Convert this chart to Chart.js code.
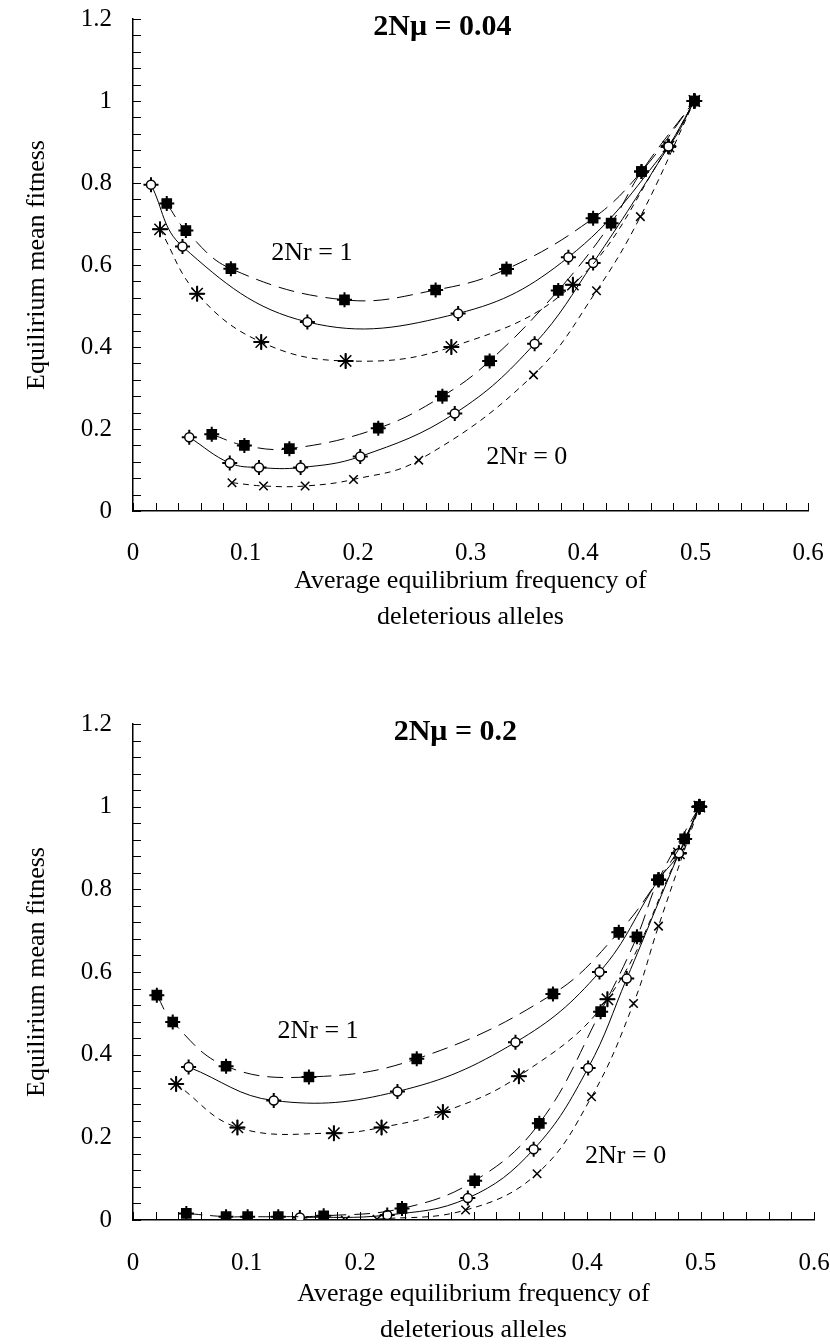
<!DOCTYPE html>
<html>
<head>
<meta charset="utf-8">
<script src="https://cdn.jsdelivr.net/npm/chart.js@4.4.1/dist/chart.umd.min.js"></script>
<style>
  body { margin: 0; background: #fff; width: 830px; height: 1344px; position: relative; overflow: hidden; }
  .box { position: absolute; left: 0; width: 830px; height: 672px; }
</style>
</head>
<body>
<div class="box" style="top:0"><canvas id="topChart"></canvas></div>
<div class="box" style="top:676px"><canvas id="bottomChart"></canvas></div>
<script>
// ---- 2Nmu = 0.04 ----
// 2Nr = 1
var topR1SqX   = [0.030, 0.047, 0.087, 0.188, 0.269, 0.332, 0.409, 0.452, 0.499];
var topR1SqY   = [0.750, 0.684, 0.591, 0.515, 0.539, 0.590, 0.714, 0.828, 1.000];
var topR1CircX = [0.016, 0.044, 0.155, 0.289, 0.387, 0.476, 0.499];
var topR1CircY = [0.796, 0.645, 0.461, 0.482, 0.619, 0.889, 1.000];
var topR1StarX = [0.024, 0.057, 0.114, 0.189, 0.283, 0.391, 0.476, 0.499];
var topR1StarY = [0.687, 0.530, 0.412, 0.366, 0.400, 0.552, 0.889, 1.000];
// 2Nr = 0
var topR0SqX    = [0.070, 0.099, 0.139, 0.218, 0.275, 0.317, 0.378, 0.425, 0.452, 0.499];
var topR0SqY    = [0.187, 0.160, 0.152, 0.202, 0.280, 0.366, 0.538, 0.702, 0.828, 1.000];
var topR0CircX  = [0.050, 0.086, 0.112, 0.149, 0.202, 0.286, 0.357, 0.409, 0.476, 0.499];
var topR0CircY  = [0.180, 0.117, 0.106, 0.106, 0.133, 0.238, 0.408, 0.605, 0.889, 1.000];
var topR0CrossX = [0.088, 0.116, 0.153, 0.196, 0.254, 0.356, 0.412, 0.451, 0.499];
var topR0CrossY = [0.069, 0.061, 0.061, 0.077, 0.124, 0.332, 0.537, 0.718, 1.000];

// ---- 2Nmu = 0.2 ----
// 2Nr = 1
var botR1SqX   = [0.021, 0.035, 0.082, 0.155, 0.250, 0.370, 0.428, 0.463, 0.486, 0.499];
var botR1SqY   = [0.544, 0.479, 0.372, 0.346, 0.390, 0.547, 0.696, 0.823, 0.922, 1.000];
var botR1CircX = [0.049, 0.124, 0.233, 0.337, 0.411, 0.463, 0.481, 0.499];
var botR1CircY = [0.370, 0.289, 0.311, 0.430, 0.600, 0.823, 0.887, 1.000];
var botR1StarX = [0.038, 0.092, 0.177, 0.219, 0.273, 0.340, 0.418, 0.481, 0.499];
var botR1StarY = [0.329, 0.224, 0.210, 0.224, 0.261, 0.348, 0.534, 0.887, 1.000];
// 2Nr = 0
var botR0SqX    = [0.047, 0.082, 0.101, 0.128, 0.168, 0.237, 0.301, 0.358, 0.412, 0.444, 0.463, 0.499];
var botR0SqY    = [0.016, 0.008, 0.008, 0.008, 0.010, 0.028, 0.095, 0.234, 0.504, 0.685, 0.823, 1.000];
var botR0CircX  = [0.147, 0.224, 0.295, 0.353, 0.401, 0.435, 0.481, 0.499];
var botR0CircY  = [0.006, 0.012, 0.053, 0.171, 0.368, 0.584, 0.887, 1.000];
var botR0CrossX = [0.187, 0.215, 0.293, 0.356, 0.404, 0.441, 0.463, 0.499];
var botR0CrossY = [0.000, 0.002, 0.024, 0.112, 0.298, 0.524, 0.711, 1.000];

// axis ticks
var xTickValues = [0, 0.1, 0.2, 0.3, 0.4, 0.5, 0.6];
var yTickValues = [0, 0.2, 0.4, 0.6, 0.8, 1, 1.2];

var serif = '"Liberation Serif", "Times New Roman", serif';
Chart.defaults.font.family = serif;
Chart.defaults.color = '#000';

function pts(xs, ys) {
  return xs.map(function(x, i) { return { x: x, y: ys[i] }; });
}

// marker looks for the kinds of series
var looks = {
  sq:    { pointStyle: 'rect',     radius: 6.5, bg: '#000', dash: [16, 8], bars: true },
  circ:  { pointStyle: 'circle',   radius: 4.5, bg: '#fff', dash: [],      bars: true },
  star:  { pointStyle: 'star',     radius: 8,   bg: '#000', dash: [6, 5],  bars: true },
  cross: { pointStyle: 'crossRot', radius: 6,   bg: '#000', dash: [6, 5],  bars: false }
};

function buildSets(list) {
  var sets = [];
  list.forEach(function(s) {
    var lk = looks[s.kind];
    var data = pts(s.xs, s.ys);
    sets.push({
      data: data,
      showLine: true,
      tension: 0.4,
      borderColor: '#000',
      borderWidth: 1,
      borderDash: lk.dash,
      pointStyle: lk.pointStyle,
      pointRadius: lk.radius,
      pointBackgroundColor: lk.bg,
      pointBorderColor: '#000',
      pointBorderWidth: 1.5,
      order: 1
    });
    if (lk.bars) {
      // error-bar like crosses behind the markers
      sets.push({
        data: data,
        showLine: false,
        pointStyle: 'cross',
        pointRadius: 7.5,
        pointBorderColor: '#000',
        pointBorderWidth: 2,
        order: 2
      });
    }
  });
  return sets;
}

var paperMarks = {
  id: 'paperMarks',
  afterDraw: function(chart, args, opts) {
    var ctx = chart.ctx, sx = chart.scales.x, sy = chart.scales.y;
    ctx.save();
    ctx.strokeStyle = '#000';
    ctx.lineWidth = 1;
    ctx.beginPath();
    for (var i = 0; i <= 30; i++) {
      var py = Math.round(sy.getPixelForValue(i * 0.04)) + 0.5;
      ctx.moveTo(sx.left, py);
      ctx.lineTo(sx.left + 8, py);
    }
    for (var j = 0; j <= 30; j++) {
      var px = Math.round(sx.getPixelForValue(j * 0.02)) + 0.5;
      ctx.moveTo(px, sy.bottom);
      ctx.lineTo(px, sy.bottom - 8);
    }
    ctx.stroke();
    ctx.fillStyle = '#000';
    ctx.textAlign = 'center';
    ctx.textBaseline = 'middle';
    opts.notes.forEach(function(n) {
      ctx.font = n.font;
      ctx.fillText(n.text, sx.getPixelForValue(n.x), sy.getPixelForValue(n.y));
    });
    ctx.restore();
  }
};

function makeChart(id, list, notes, pad, xHeight, xTickPad) {
  var ctx = document.getElementById(id).getContext('2d');
  return new Chart(ctx, {
    type: 'scatter',
    data: { datasets: buildSets(list) },
    options: {
      responsive: true,
      maintainAspectRatio: false,
      animation: false,
      layout: { padding: pad },
      plugins: {
        legend: { display: false },
        tooltip: { enabled: false },
        paperMarks: { notes: notes }
      },
      scales: {
        x: {
          type: 'linear', min: 0, max: 0.6,
          border: { display: true, color: '#000', width: 1.5 },
          grid: { display: false },
          afterBuildTicks: function(s) { s.ticks = xTickValues.map(function(v) { return { value: v }; }); },
          ticks: { padding: xTickPad, font: { size: 25 }, maxRotation: 0, color: '#000',
                   callback: function(v) { return +v.toFixed(1); } },
          title: { display: true, text: ['Average equilibrium frequency of', 'deleterious alleles'],
                   font: { size: 26, lineHeight: 1.385 }, padding: 0, color: '#000' },
          afterFit: function(s) { s.height = xHeight; s.paddingLeft = 0; s.paddingRight = 0; }
        },
        y: {
          type: 'linear', min: 0, max: 1.2,
          border: { display: true, color: '#000', width: 1.5 },
          grid: { display: false },
          afterBuildTicks: function(s) { s.ticks = yTickValues.map(function(v) { return { value: v }; }); },
          ticks: { padding: 13, font: { size: 25 }, color: '#000',
                   callback: function(v) { return +v.toFixed(1); } },
          title: { display: true, text: 'Equilirium mean fitness',
                   font: { size: 26 }, padding: { top: 22, bottom: 0 }, color: '#000' },
          afterFit: function(s) { s.width = 133; s.paddingTop = 0; s.paddingBottom = 0; }
        }
      }
    },
    plugins: [paperMarks]
  });
}

makeChart('topChart', [
  { kind: 'sq',    xs: topR1SqX,    ys: topR1SqY },
  { kind: 'circ',  xs: topR1CircX,  ys: topR1CircY },
  { kind: 'star',  xs: topR1StarX,  ys: topR1StarY },
  { kind: 'sq',    xs: topR0SqX,    ys: topR0SqY },
  { kind: 'circ',  xs: topR0CircX,  ys: topR0CircY },
  { kind: 'cross', xs: topR0CrossX, ys: topR0CrossY }
], [
  { text: '2N\u03bc = 0.04', x: 0.275, y: 1.18, font: 'bold 30px ' + serif },
  { text: '2Nr = 1', x: 0.159, y: 0.629, font: '26px ' + serif },
  { text: '2Nr = 0', x: 0.350, y: 0.132, font: '26px ' + serif }
], { top: 19, right: 22, bottom: 37, left: 0 }, 124, 19);

makeChart('bottomChart', [
  { kind: 'sq',    xs: botR1SqX,    ys: botR1SqY },
  { kind: 'circ',  xs: botR1CircX,  ys: botR1CircY },
  { kind: 'star',  xs: botR1StarX,  ys: botR1StarY },
  { kind: 'sq',    xs: botR0SqX,    ys: botR0SqY },
  { kind: 'circ',  xs: botR0CircX,  ys: botR0CircY },
  { kind: 'cross', xs: botR0CrossX, ys: botR0CrossY }
], [
  { text: '2N\u03bc = 0.2', x: 0.284, y: 1.181, font: 'bold 30px ' + serif },
  { text: '2Nr = 1', x: 0.163, y: 0.457, font: '26px ' + serif },
  { text: '2Nr = 0', x: 0.434, y: 0.154, font: '26px ' + serif }
], { top: 48, right: 16, bottom: 0, left: 0 }, 128, 20);
</script>
</body>
</html>
